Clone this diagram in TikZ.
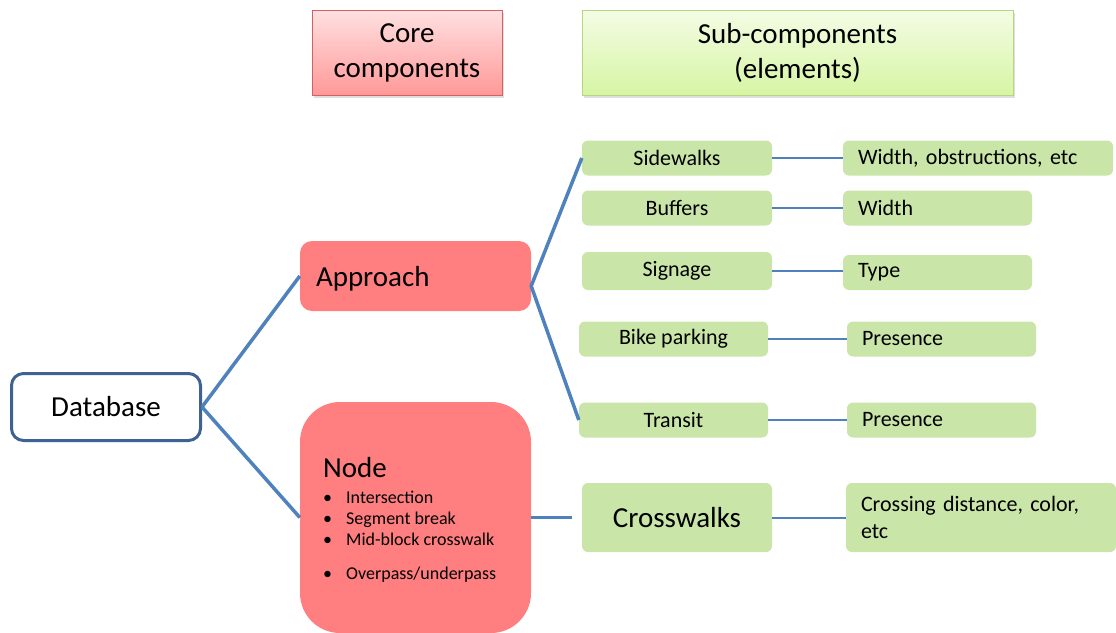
\documentclass[tikz,border=0pt]{standalone}
\usepackage{fontspec}
\setmainfont{Carlito}
\usepackage{tikz}
\usetikzlibrary{shadows}
\frenchspacing

\definecolor{linkblue}{RGB}{79,129,189}
\definecolor{dbline}{RGB}{62,98,146}
\definecolor{corefill}{RGB}{255,126,128}
\definecolor{leaffill}{RGB}{202,229,168}
\definecolor{corehi}{RGB}{255,224,224}
\definecolor{corelo}{RGB}{255,152,152}
\definecolor{coreedge}{RGB}{214,96,96}
\definecolor{subhi}{RGB}{244,252,228}
\definecolor{sublo}{RGB}{214,245,164}
\definecolor{subedge}{RGB}{184,214,128}

\tikzset{
  headbox/.style={draw, line width=1pt, minimum height=85pt, align=center,
    font=\fontsize{29}{35}\selectfont,
    drop shadow={opacity=0.25, shadow xshift=2pt, shadow yshift=-2pt}},
  corebox/.style={fill=corefill, rounded corners=12pt},
  leafbox/.style={fill=leaffill, rounded corners=6pt, minimum height=35pt,
    font=\fontsize{22}{27}\selectfont},
  elembox/.style={leafbox, minimum width=190pt},
  attrbox/.style={leafbox, inner xsep=15pt, align=left},
  item/.style={anchor=base west, inner sep=0pt, font=\fontsize{18}{21}\selectfont},
  link/.style={draw=linkblue, line width=3.5pt},
  sublink/.style={draw=linkblue, line width=2pt}
}

\begin{document}
\begin{tikzpicture}[x=1pt, y=-1pt]
        \useasboundingbox (0,0) rectangle (1116,632);

        % headers
        \node[headbox, draw=coreedge, top color=corehi, bottom color=corelo,
          minimum width=190pt] (corehead) at (407, 53) {Core\\components};
        \node[headbox, draw=subedge, top color=subhi, bottom color=sublo,
          minimum width=431pt] (subhead) at (797.5, 53) {Sub-components\\(elements)};

        % root
        \node[draw=dbline, line width=3pt, fill=white, rounded corners=12pt,
          minimum width=189pt, minimum height=67pt,
          font=\fontsize{29}{35}\selectfont] (db) at (106, 407) {Database};

        % core components
        \node[corebox, minimum width=231pt, minimum height=70pt, inner xsep=16pt,
          text width=199pt, text depth=0pt, align=left, font=\fontsize{29}{35}\selectfont]
          (approach) at (415.5, 276) {Approach};
        \node[corebox, rounded corners=40pt, minimum width=231pt,
          minimum height=231pt] (nodebox) at (415.5, 517.5) {};
        \node[item, font=\fontsize{29}{35}\selectfont] (nodetitle) at (323, 477) {Node};
        \node[item] (itemA) at (323, 503) {\makebox[23pt][l]{\textbullet}Intersection};
        \node[item] (itemB) at (323, 524) {\makebox[23pt][l]{\textbullet}Segment break};
        \node[item] (itemC) at (323, 545) {\makebox[23pt][l]{\textbullet}Mid-block crosswalk};
        \node[item] (itemD) at (323, 579) {\makebox[23pt][l]{\textbullet}Overpass/underpass};

        % sub-components
        \node[elembox] (sidewalks) at (677, 158) {Sidewalks};
        \node[elembox] (buffers) at (677, 208) {Buffers};
        \node[elembox, minimum height=38pt] (signage) at (677, 271) {Signage};
        \node[elembox, minimum width=189pt] (bike) at (673.5, 339) {Bike parking};
        \node[elembox, minimum width=189pt] (transit) at (673.5, 420) {Transit};
        \node[elembox, minimum height=69pt, font=\fontsize{29}{35}\selectfont]
          (crosswalks) at (677, 517.5) {Crosswalks};

        % attributes
        \node[attrbox, text width=240pt] (swattr) at (978, 158) {Width, obstructions, etc};
        \node[attrbox, text width=159pt] (bfattr) at (937.5, 208) {Width};
        \node[attrbox, text width=159pt] (sgattr) at (937.5, 272.5) {Type};
        \node[attrbox, text width=159pt] (bkattr) at (941.5, 339) {Presence};
        \node[attrbox, text width=159pt] (trattr) at (941.5, 420) {Presence};
        \node[attrbox, text width=240pt, minimum height=69pt]
          (cwattr) at (981, 517.5) {Crossing distance, color,\\etc};

        \coordinate (fork) at ([yshift=-10pt]approach.east);
        \coordinate (cwend) at ([xshift=-10pt]crosswalks.west);

        \draw[link] (db.east) -- (approach.west);
        \draw[link] (db.east) -- (nodebox.west);
        \draw[link] (sidewalks.west) -- (fork) -- (transit.west);
        \draw[link] (nodebox.east) -- (cwend);

        \draw[sublink] (sidewalks) -- (swattr);
        \draw[sublink] (buffers) -- (bfattr);
        \draw[sublink] (signage.east) -- (sgattr.west |- signage.east);
        \draw[sublink] (bike) -- (bkattr);
        \draw[sublink] (transit) -- (trattr);
        \draw[sublink] (crosswalks) -- (cwattr);
    \end{tikzpicture}
\end{document}
